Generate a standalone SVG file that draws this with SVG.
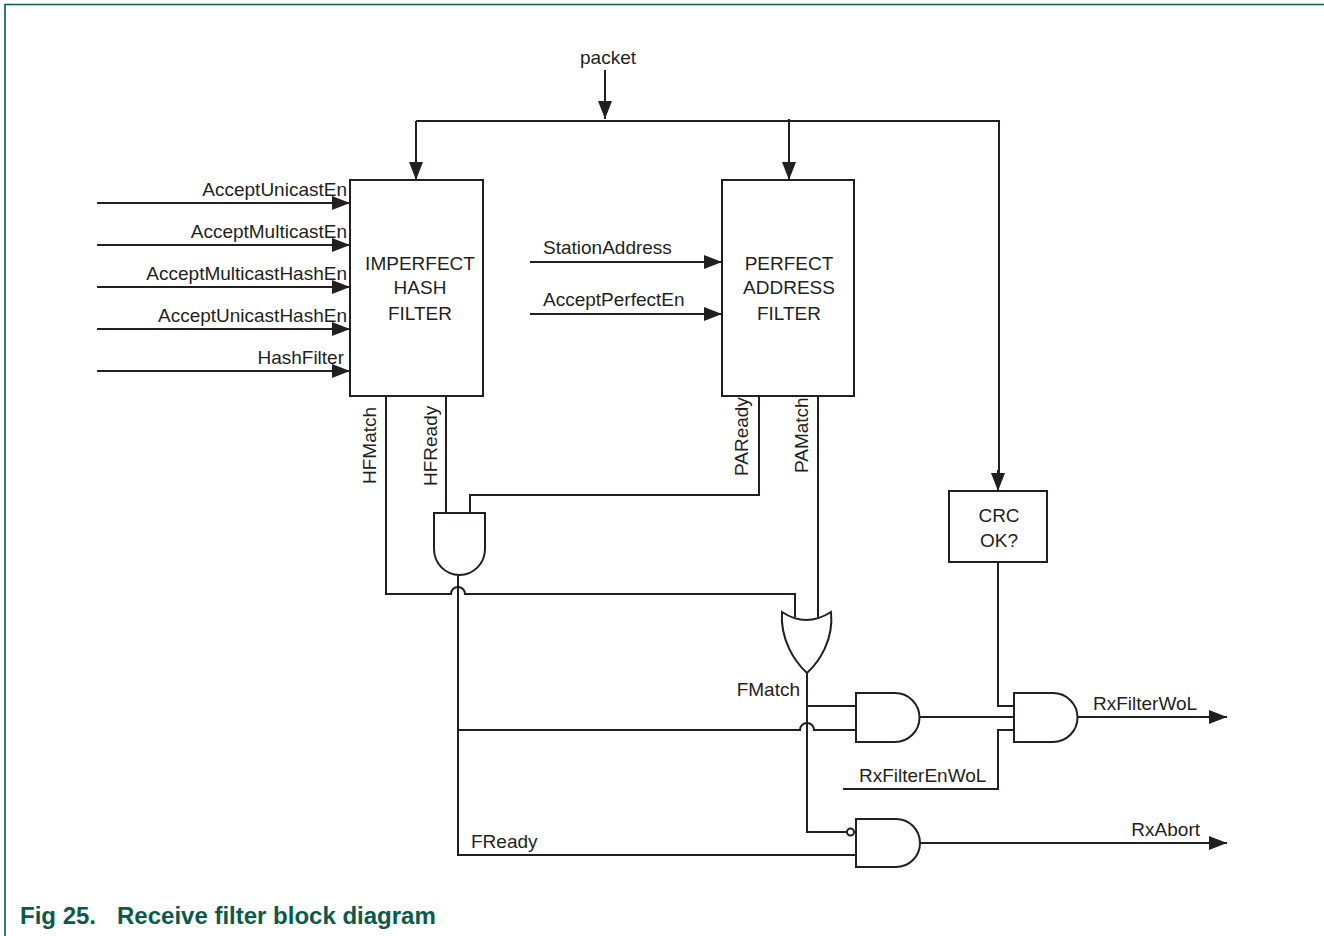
<svg xmlns="http://www.w3.org/2000/svg" width="1324" height="936" viewBox="0 0 1324 936">
<style>
.w{fill:none;stroke:#231f20;stroke-width:2}
.a{fill:none;stroke:#231f20;stroke-width:2;marker-end:url(#ah)}
.b{fill:#fff;stroke:#231f20;stroke-width:2}
.t{font-family:"Liberation Sans",Arial,sans-serif;font-size:19px;fill:#231f20}
.m{text-anchor:middle}
.e{text-anchor:end}
.c{font-family:"Liberation Sans",Arial,sans-serif;font-size:24px;font-weight:bold;fill:#0b5a49}
</style>
<defs>
<marker id="ah" markerUnits="userSpaceOnUse" markerWidth="18" markerHeight="14" refX="18" refY="7" orient="auto">
<path d="M0,0 L18,7 L0,14 Z" fill="#231f20"/>
</marker>
</defs>
<rect width="1324" height="936" fill="#fff"/>
<path d="M5,936 V4.5 H1324" fill="none" stroke="#0b5a49" stroke-width="1.6"/>

<g id="connectors">
<path class="a" d="M605,70 V119"/>
<path class="w" d="M416,121 H999 V476"/>
<path class="a" d="M416,121 V180"/>
<path class="a" d="M789,119 V180"/>
<path class="a" d="M998,470 V491"/>
<path class="a" d="M97,203 H350"/>
<path class="a" d="M97,245 H350"/>
<path class="a" d="M97,287 H350"/>
<path class="a" d="M97,329 H350"/>
<path class="a" d="M97,371 H350"/>
<path class="a" d="M530,262 H722"/>
<path class="a" d="M530,314 H722"/>
<path class="w" d="M386,396 V594 H451 A7,7 0 0 1 465,594 H795 V617"/>
<path class="w" d="M446,396 V513"/>
<path class="w" d="M759,396 V495 H470 V513"/>
<path class="w" d="M818,396 V617"/>
<path class="w" d="M458,575 V855 H856"/>
<path class="w" d="M458,730 H800 A7,7 0 0 1 814,730 H856"/>
<path class="w" d="M807,673 V832 H846.5"/>
<path class="w" d="M807,706 H856"/>
<path class="w" d="M920,717 H1014"/>
<path class="w" d="M998,562 V706 H1014"/>
<path class="w" d="M843,789 H998 V730 H1014"/>
<path class="a" d="M1077,717 H1227"/>
<path class="a" d="M920,843 H1227"/>
</g>

<g id="imperfect-hash-filter">
<rect class="b" x="350" y="180" width="133" height="216"/>
<text class="t m" x="420" y="270">IMPERFECT</text>
<text class="t m" x="420" y="294">HASH</text>
<text class="t m" x="420" y="320">FILTER</text>
</g>
<g id="perfect-address-filter">
<rect class="b" x="722" y="180" width="132" height="216"/>
<text class="t m" x="789" y="270">PERFECT</text>
<text class="t m" x="789" y="294">ADDRESS</text>
<text class="t m" x="789" y="320">FILTER</text>
</g>
<g id="crc">
<rect class="b" x="949" y="491" width="98" height="71"/>
<text class="t m" x="999" y="522">CRC</text>
<text class="t m" x="999" y="547">OK?</text>
</g>
<g id="and-ready">
<path class="b" d="M434,513 H485 V549 A25.5,26 0 0 1 434,549 Z"/>
</g>
<g id="or-match">
<path class="b" d="M782,612 Q806,628 831,612 C834,640 819,662 807,673 C795,662 780,640 782,612 Z"/>
</g>
<g id="and-wol">
<path class="b" d="M856,693 H895 A24.5,24.5 0 0 1 895,742 H856 Z"/>
</g>
<g id="and-rxfilterwol">
<path class="b" d="M1014,693 H1053 A24.5,24.5 0 0 1 1053,742 H1014 Z"/>
</g>
<g id="and-rxabort">
<path class="b" d="M856,819 H896 A24,24 0 0 1 896,867 H856 Z"/>
<circle class="b" cx="850.5" cy="832" r="3.5"/>
</g>

<g id="labels">
<text class="t m" x="608" y="64">packet</text>
<text class="t e" x="347" y="196">AcceptUnicastEn</text>
<text class="t e" x="347" y="238">AcceptMulticastEn</text>
<text class="t e" x="347" y="280">AcceptMulticastHashEn</text>
<text class="t e" x="347" y="322">AcceptUnicastHashEn</text>
<text class="t e" x="344" y="364">HashFilter</text>
<text class="t" x="543" y="254">StationAddress</text>
<text class="t" x="543" y="306">AcceptPerfectEn</text>
<text class="t" transform="translate(376,484) rotate(-90)">HFMatch</text>
<text class="t" transform="translate(436.5,486) rotate(-90)">HFReady</text>
<text class="t" transform="translate(748,476) rotate(-90)">PAReady</text>
<text class="t" transform="translate(808,473) rotate(-90)">PAMatch</text>
<text class="t e" x="800" y="696">FMatch</text>
<text class="t" x="471" y="848">FReady</text>
<text class="t" x="1093" y="710">RxFilterWoL</text>
<text class="t" x="859" y="782">RxFilterEnWoL</text>
<text class="t e" x="1200" y="836">RxAbort</text>
</g>
<g id="caption">
<text class="c" x="20" y="924">Fig 25.</text>
<text class="c" x="117" y="924">Receive filter block diagram</text>
</g>
</svg>
